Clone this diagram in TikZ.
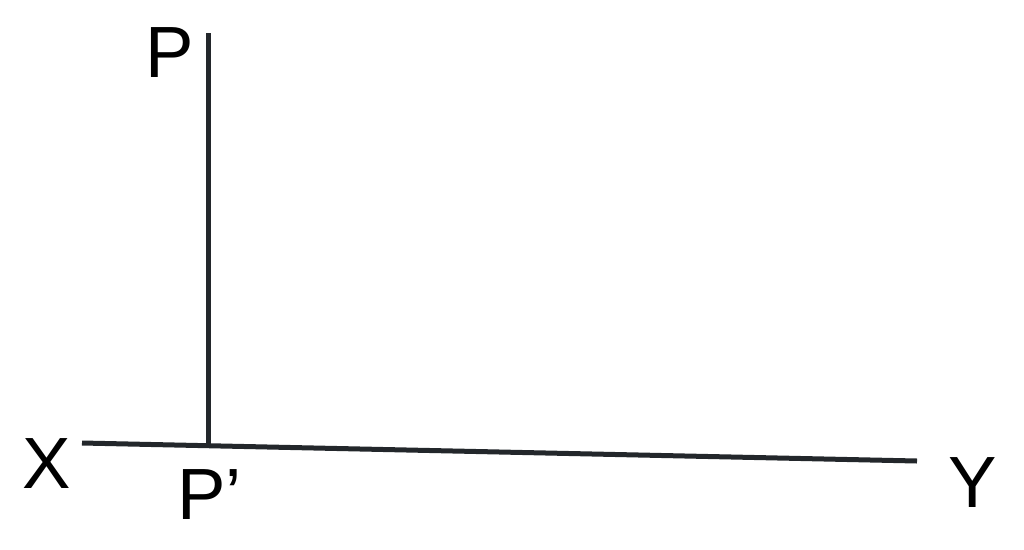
\documentclass[tikz,border=0pt]{standalone}
\usepackage{fontspec}
\setmainfont{Liberation Sans}
\usepackage{tikz}
\usetikzlibrary{positioning}
\definecolor{linegray}{HTML}{23272B}

\begin{document}
\begin{tikzpicture}[x=1pt, y=-1pt,
    refline/.style={draw=linegray, line width=5pt},
    letter/.style={inner sep=0pt, font=\fontsize{72.6}{80}\selectfont}]
                  \useasboundingbox (0,0) rectangle (1024,549);

                  % draw the ground line X--Y
                  \coordinate (xend) at (82,443);
                  \coordinate (yend) at (917,461);
                  \draw[refline] (xend) -- (yend);

                  % draw the vertical line from P down to P'
                  \coordinate (ptop) at (208.5,33);
                  \coordinate (pfoot) at (208.5,445.7);
                  \draw[refline] (ptop) -- (pfoot);

                  % labels
                  \node[letter] (P) at (169.5,53) {P};
                  \node[letter] (X) at (46.5,464) {X};
                  \node[letter, anchor=west] (Pp) at (177,494.5) {P’};
                  \node[letter] (Y) at (972.5,482.5) {Y};

              \end{tikzpicture}
\end{document}
